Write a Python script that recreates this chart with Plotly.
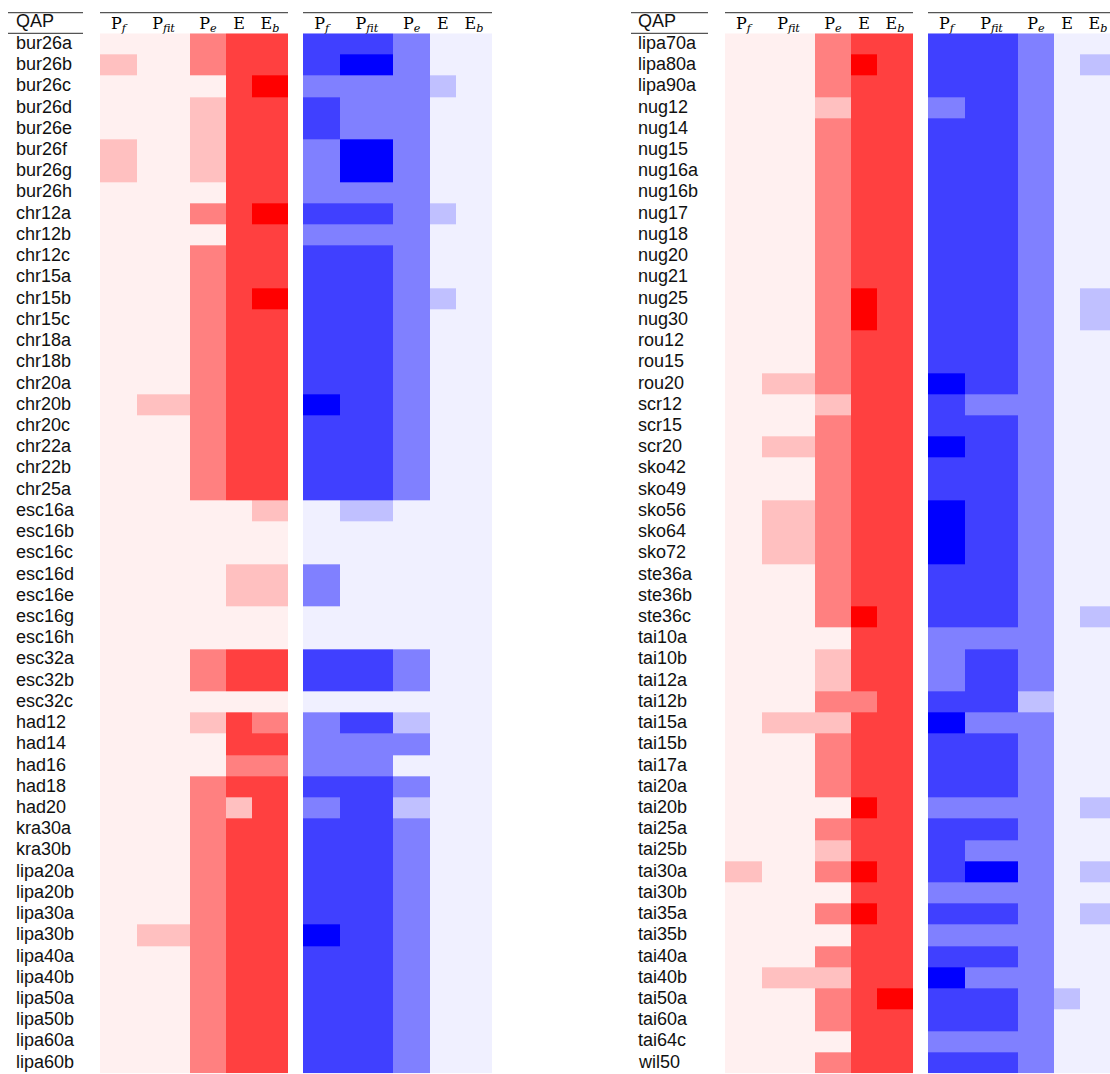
import plotly.graph_objects as go

# ---------------- data ----------------
column_labels = ["P<sub><i>f</i></sub>", "P<sub><i>fit</i></sub>", "P<sub><i>e</i></sub>",
                 "E", "E<sub><i>b</i></sub>"]

left_qap = ["bur26a", "bur26b", "bur26c", "bur26d", "bur26e", "bur26f", "bur26g", "bur26h",
            "chr12a", "chr12b", "chr12c", "chr15a", "chr15b", "chr15c", "chr18a", "chr18b",
            "chr20a", "chr20b", "chr20c", "chr22a", "chr22b", "chr25a",
            "esc16a", "esc16b", "esc16c", "esc16d", "esc16e", "esc16g", "esc16h",
            "esc32a", "esc32b", "esc32c", "had12", "had14", "had16", "had18", "had20",
            "kra30a", "kra30b", "lipa20a", "lipa20b", "lipa30a", "lipa30b", "lipa40a",
            "lipa40b", "lipa50a", "lipa50b", "lipa60a", "lipa60b"]

right_qap = ["lipa70a", "lipa80a", "lipa90a", "nug12", "nug14", "nug15", "nug16a", "nug16b",
             "nug17", "nug18", "nug20", "nug21", "nug25", "nug30", "rou12", "rou15", "rou20",
             "scr12", "scr15", "scr20", "sko42", "sko49", "sko56", "sko64", "sko72",
             "ste36a", "ste36b", "ste36c", "tai10a", "tai10b", "tai12a", "tai12b", "tai15a",
             "tai15b", "tai17a", "tai20a", "tai20b", "tai25a", "tai25b", "tai30a", "tai30b",
             "tai35a", "tai35b", "tai40a", "tai40b", "tai50a", "tai60a", "tai64c", "wil50"]

# levels 0..4 (columns: Pf, Pfit, Pe, E, Eb)
left_red = [
    [0,0,2,3,3],[1,0,2,3,3],[0,0,0,3,4],[0,0,1,3,3],[0,0,1,3,3],[1,0,1,3,3],[1,0,1,3,3],[0,0,0,3,3],
    [0,0,2,3,4],[0,0,0,3,3],[0,0,2,3,3],[0,0,2,3,3],[0,0,2,3,4],[0,0,2,3,3],[0,0,2,3,3],[0,0,2,3,3],
    [0,0,2,3,3],[0,1,2,3,3],[0,0,2,3,3],[0,0,2,3,3],[0,0,2,3,3],[0,0,2,3,3],
    [0,0,0,0,1],[0,0,0,0,0],[0,0,0,0,0],[0,0,0,1,1],[0,0,0,1,1],[0,0,0,0,0],[0,0,0,0,0],
    [0,0,2,3,3],[0,0,2,3,3],[0,0,0,0,0],[0,0,1,3,2],[0,0,0,3,3],[0,0,0,2,2],[0,0,2,3,3],[0,0,2,1,3],
    [0,0,2,3,3],[0,0,2,3,3],[0,0,2,3,3],[0,0,2,3,3],[0,0,2,3,3],[0,1,2,3,3],[0,0,2,3,3],
    [0,0,2,3,3],[0,0,2,3,3],[0,0,2,3,3],[0,0,2,3,3],[0,0,2,3,3],
]
left_blue = [
    [3,3,2,0,0],[3,4,2,0,0],[2,2,2,1,0],[3,2,2,0,0],[3,2,2,0,0],[2,4,2,0,0],[2,4,2,0,0],[2,2,2,0,0],
    [3,3,2,1,0],[2,2,2,0,0],[3,3,2,0,0],[3,3,2,0,0],[3,3,2,1,0],[3,3,2,0,0],[3,3,2,0,0],[3,3,2,0,0],
    [3,3,2,0,0],[4,3,2,0,0],[3,3,2,0,0],[3,3,2,0,0],[3,3,2,0,0],[3,3,2,0,0],
    [0,1,0,0,0],[0,0,0,0,0],[0,0,0,0,0],[2,0,0,0,0],[2,0,0,0,0],[0,0,0,0,0],[0,0,0,0,0],
    [3,3,2,0,0],[3,3,2,0,0],[0,0,0,0,0],[2,3,1,0,0],[2,2,2,0,0],[2,2,0,0,0],[3,3,2,0,0],[2,3,1,0,0],
    [3,3,2,0,0],[3,3,2,0,0],[3,3,2,0,0],[3,3,2,0,0],[3,3,2,0,0],[4,3,2,0,0],[3,3,2,0,0],
    [3,3,2,0,0],[3,3,2,0,0],[3,3,2,0,0],[3,3,2,0,0],[3,3,2,0,0],
]
right_red = [
    [0,0,2,3,3],[0,0,2,4,3],[0,0,2,3,3],[0,0,1,3,3],[0,0,2,3,3],[0,0,2,3,3],[0,0,2,3,3],[0,0,2,3,3],
    [0,0,2,3,3],[0,0,2,3,3],[0,0,2,3,3],[0,0,2,3,3],[0,0,2,4,3],[0,0,2,4,3],[0,0,2,3,3],[0,0,2,3,3],
    [0,1,2,3,3],[0,0,1,3,3],[0,0,2,3,3],[0,1,2,3,3],[0,0,2,3,3],[0,0,2,3,3],[0,1,2,3,3],[0,1,2,3,3],
    [0,1,2,3,3],[0,0,2,3,3],[0,0,2,3,3],[0,0,2,4,3],[0,0,0,3,3],[0,0,1,3,3],[0,0,1,3,3],[0,0,2,2,3],
    [0,1,1,3,3],[0,0,2,3,3],[0,0,2,3,3],[0,0,2,3,3],[0,0,0,4,3],[0,0,2,3,3],[0,0,1,3,3],[1,0,2,4,3],
    [0,0,0,3,3],[0,0,2,4,3],[0,0,0,3,3],[0,0,2,3,3],[0,1,1,3,3],[0,0,2,3,4],[0,0,2,3,3],[0,0,0,3,3],
    [0,0,2,3,3],
]
right_blue = [
    [3,3,2,0,0],[3,3,2,0,1],[3,3,2,0,0],[2,3,2,0,0],[3,3,2,0,0],[3,3,2,0,0],[3,3,2,0,0],[3,3,2,0,0],
    [3,3,2,0,0],[3,3,2,0,0],[3,3,2,0,0],[3,3,2,0,0],[3,3,2,0,1],[3,3,2,0,1],[3,3,2,0,0],[3,3,2,0,0],
    [4,3,2,0,0],[3,2,2,0,0],[3,3,2,0,0],[4,3,2,0,0],[3,3,2,0,0],[3,3,2,0,0],[4,3,2,0,0],[4,3,2,0,0],
    [4,3,2,0,0],[3,3,2,0,0],[3,3,2,0,0],[3,3,2,0,1],[2,2,2,0,0],[2,3,2,0,0],[2,3,2,0,0],[3,3,1,0,0],
    [4,2,2,0,0],[3,3,2,0,0],[3,3,2,0,0],[3,3,2,0,0],[2,2,2,0,1],[3,3,2,0,0],[3,2,2,0,0],[3,4,2,0,1],
    [2,2,2,0,0],[3,3,2,0,1],[2,2,2,0,0],[3,3,2,0,0],[4,2,2,0,0],[3,3,2,1,0],[3,3,2,0,0],[2,2,2,0,0],
    [3,3,2,0,0],
]

# ---------------- layout constants ----------------
W, H = 1110, 1074
col_edges = [0, 37, 90, 126, 152, 188]
col_centers = [(a + b) / 2 for a, b in zip(col_edges[:-1], col_edges[1:])]

reds = [[0, "#fff0f0"], [0.25, "#ffc0c0"], [0.5, "#ff8080"], [0.75, "#ff4040"], [1, "#ff0000"]]
blues = [[0, "#f0f0ff"], [0.25, "#c0c0ff"], [0.5, "#8080ff"], [0.75, "#4040ff"], [1, "#0000ff"]]

def px(x):
    return x / W

def py(y):
    return 1 - y / H

top_y, body_y, bottom_y = 12.7, 33.3, 1073.3

fig = go.Figure()

blocks = [
    (left_red, reds, "x", "y", left_qap),
    (left_blue, blues, "x2", "y", left_qap),
    (right_red, reds, "x3", "y2", right_qap),
    (right_blue, blues, "x4", "y2", right_qap),
]
for z, cs, xa, ya, names in blocks:
    fig.add_trace(go.Heatmap(
        z=z, x=col_edges, y=names, colorscale=cs, zmin=0, zmax=4,
        showscale=False, xaxis=xa, yaxis=ya, hoverongaps=False,
    ))

x_domains = {"xaxis": (100, 288, 188), "xaxis2": (303, 492, 188),
             "xaxis3": (725, 913, 188), "xaxis4": (928, 1110, 182)}
tickfont = dict(family="DejaVu Serif", size=16, color="black")
for name, (a, b, rng) in x_domains.items():
    anchor = "y" if name in ("xaxis", "xaxis2") else "y2"
    fig.layout[name] = dict(
        domain=[px(a), px(b)], range=[0, rng], anchor=anchor, side="top",
        tickvals=col_centers, ticktext=column_labels, ticks="", showgrid=False,
        zeroline=False, showline=False, tickfont=tickfont, fixedrange=True,
        ticklabelstandoff=0,
    )

for name, names in (("yaxis", left_qap), ("yaxis2", right_qap)):
    fig.layout[name] = dict(
        domain=[py(bottom_y), py(body_y)], type="category",
        categoryorder="array", categoryarray=names,
        range=[len(names) - 0.5, -0.5], showticklabels=False, ticks="",
        showgrid=False, zeroline=False, showline=False,
        anchor="x" if name == "yaxis" else "x3", fixedrange=True,
    )

annotations = []
label_font = dict(family="Liberation Sans", size=18, color="#111111")
for names, x0, yref in ((left_qap, 13.5, "y"), (right_qap, 636, "y2")):
    for n in names:
        annotations.append(dict(text=n, x=px(x0), xref="paper", y=n, yref=yref,
                                xanchor="left", yanchor="middle", showarrow=False,
                                font=label_font, yshift=1))
    annotations.append(dict(text="QAP", x=px(x0), xref="paper", y=py(21.5), yref="paper",
                            xanchor="left", yanchor="middle", showarrow=False, font=label_font))

shapes = []
line = dict(color="#555555", width=1.3)
for a, b in ((8, 83), (100, 288), (303, 492), (631, 708), (725, 913), (928, 1110)):
    shapes.append(dict(type="line", xref="paper", yref="paper", x0=px(a), x1=px(b),
                       y0=py(top_y), y1=py(top_y), line=line))
for a, b in ((8, 83), (631, 708)):
    shapes.append(dict(type="line", xref="paper", yref="paper", x0=px(a), x1=px(b),
                       y0=py(body_y), y1=py(body_y), line=line))

fig.update_layout(
    width=W, height=H, margin=dict(l=0, r=0, t=0, b=0),
    paper_bgcolor="white", plot_bgcolor="white",
    annotations=annotations, shapes=shapes, showlegend=False,
)

fig.write_html("out.html", config={"displayModeBar": False},
               post_script="document.body.style.margin='0';document.body.style.overflow='hidden';")
